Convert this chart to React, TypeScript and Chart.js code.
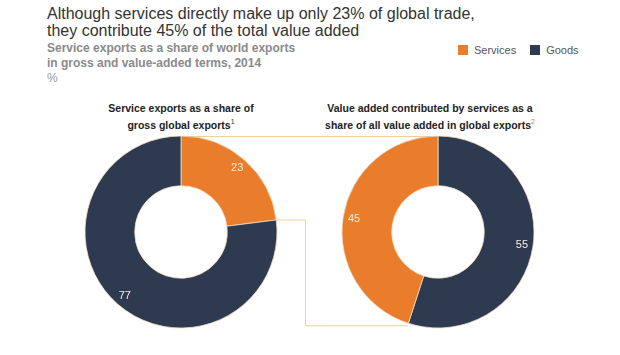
import React, { useEffect, useRef } from "react";
import { Chart, registerables } from "chart.js";

Chart.register(...registerables);

const titleLines = [
  "Although services directly make up only 23% of global trade,",
  "they contribute 45% of the total value added",
];
const subtitleLines = [
  "Service exports as a share of world exports",
  "in gross and value-added terms, 2014",
];
const unitLabel = "%";
const legendLabels = ["Services", "Goods"];

const grossCategories = ["Services", "Goods"];
const grossValues = [23, 77];
const valueAddedCategories = ["Goods", "Services"];
const valueAddedValues = [55, 45];

const ORANGE = "#ea7d2c";
const NAVY = "#2d3a50";
const LINE = "#f0cf9c";

const colorFor = (c: string) => (c === "Services" ? ORANGE : NAVY);

const labelPlugin = {
  id: "arcLabels",
  afterDatasetsDraw(chart: any) {
    const ctx = chart.ctx;
    const meta = chart.getDatasetMeta(0);
    const values = chart.data.datasets[0].data;
    ctx.save();
    ctx.font = "11px Arial, 'Liberation Sans', sans-serif";
    ctx.fillStyle = "#f6eedf";
    ctx.textAlign = "center";
    ctx.textBaseline = "middle";
    meta.data.forEach((arc: any, i: number) => {
      const mid = (arc.startAngle + arc.endAngle) / 2;
      const r = arc.outerRadius - 11;
      ctx.fillText(String(values[i]), arc.x + Math.cos(mid) * r, arc.y + Math.sin(mid) * r);
    });
    ctx.restore();
  },
};

function makeDonut(canvas: HTMLCanvasElement, cats: string[], vals: number[]) {
  return new Chart(canvas, {
    type: "doughnut",
    data: {
      labels: cats,
      datasets: [
        {
          data: vals,
          backgroundColor: cats.map(colorFor),
          borderColor: "#f3dcc0",
          borderWidth: 0.8,
        },
      ],
    },
    options: {
      animation: false,
      responsive: false,
      maintainAspectRatio: false,
      radius: 96,
      cutout: 48,
      plugins: { legend: { display: false }, tooltip: { enabled: false } },
      layout: { padding: 0 },
    },
    plugins: [labelPlugin],
  });
}

export default function App() {
  const leftRef = useRef<HTMLCanvasElement>(null);
  const rightRef = useRef<HTMLCanvasElement>(null);
  const lineRef = useRef<HTMLCanvasElement>(null);

  useEffect(() => {
    document.body.style.margin = "0";
    const left = makeDonut(leftRef.current!, grossCategories, grossValues);
    const right = makeDonut(rightRef.current!, valueAddedCategories, valueAddedValues);

    // connector lines computed from arc geometry
    const lc = lineRef.current!;
    const ctx = lc.getContext("2d")!;
    ctx.clearRect(0, 0, lc.width, lc.height);
    const lOff = { x: 81, y: 132 };
    const rOff = { x: 338, y: 132 };
    const la = left.getDatasetMeta(0).data[0] as any; // services arc
    const ra = right.getDatasetMeta(0).data[1] as any; // services arc
    const lTop = { x: lOff.x + la.x + Math.cos(la.startAngle) * la.outerRadius, y: lOff.y + la.y + Math.sin(la.startAngle) * la.outerRadius };
    const rTop = { x: rOff.x + ra.x + Math.cos(ra.endAngle) * ra.outerRadius, y: rOff.y + ra.y + Math.sin(ra.endAngle) * ra.outerRadius };
    const lEnd = { x: lOff.x + la.x + Math.cos(la.endAngle) * la.outerRadius, y: lOff.y + la.y + Math.sin(la.endAngle) * la.outerRadius };
    const rStart = { x: rOff.x + ra.x + Math.cos(ra.startAngle) * ra.outerRadius, y: rOff.y + ra.y + Math.sin(ra.startAngle) * ra.outerRadius };
    ctx.strokeStyle = LINE;
    ctx.lineWidth = 1;
    ctx.beginPath();
    ctx.moveTo(lTop.x, lTop.y + 0.5);
    ctx.lineTo(rTop.x, rTop.y + 0.5);
    ctx.stroke();
    const midX = 305.5;
    const bottomY = rStart.y + 2.5;
    ctx.beginPath();
    ctx.moveTo(lEnd.x, lEnd.y);
    ctx.lineTo(midX, lEnd.y);
    ctx.lineTo(midX, bottomY);
    ctx.lineTo(rStart.x, bottomY);
    ctx.stroke();

    return () => {
      left.destroy();
      right.destroy();
    };
  }, []);

  const font = "Arial, 'Liberation Sans', Helvetica, sans-serif";
  const chartTitle = { position: "absolute" as const, top: 101, textAlign: "center" as const, fontSize: 10.5, lineHeight: "14px", fontWeight: "bold" as const, color: "#222", whiteSpace: "nowrap" as const };

  return (
    <div style={{ position: "relative", width: 620, height: 355, background: "#fff", fontFamily: font, overflow: "hidden" }}>
      <div style={{ position: "absolute", left: 47, top: 5, fontSize: 16, lineHeight: "17px", color: "#333" }}>
        {titleLines.map((t) => (
          <div key={t} style={{ whiteSpace: "nowrap" }}>{t}</div>
        ))}
      </div>
      <div style={{ position: "absolute", left: 47, top: 41, fontSize: 12, lineHeight: "15px", color: "#8a8a8a", fontWeight: "bold" }}>
        {subtitleLines.map((t) => (
          <div key={t} style={{ whiteSpace: "nowrap" }}>{t}</div>
        ))}
        <div style={{ fontWeight: "normal", color: "#999" }}>{unitLabel}</div>
      </div>
      <div style={{ position: "absolute", left: 458, top: 44, fontSize: 11, color: "#555", display: "flex", alignItems: "center" }}>
        {legendLabels.map((l) => (
          <div key={l} style={{ display: "flex", alignItems: "center", marginRight: 14 }}>
            <span style={{ display: "inline-block", width: 10, height: 10, background: colorFor(l), marginRight: 6 }} />
            <span>{l}</span>
          </div>
        ))}
      </div>
      <div style={{ ...chartTitle, left: 81, width: 200 }}>
        Service exports as a share of<br />gross global exports<sup style={{ fontSize: 7, fontWeight: "normal", color: "#333" }}>1</sup>
      </div>
      <div style={{ ...chartTitle, left: 310, width: 240 }}>
        Value added contributed by services as a<br />share of all value added in global exports<sup style={{ fontSize: 7, fontWeight: "normal", color: ORANGE }}>2</sup>
      </div>
      <canvas ref={lineRef} width={620} height={355} style={{ position: "absolute", left: 0, top: 0 }} />
      <canvas ref={leftRef} width={200} height={200} style={{ position: "absolute", left: 81, top: 132, width: 200, height: 200 }} />
      <canvas ref={rightRef} width={200} height={200} style={{ position: "absolute", left: 338, top: 132, width: 200, height: 200 }} />
    </div>
  );
}
